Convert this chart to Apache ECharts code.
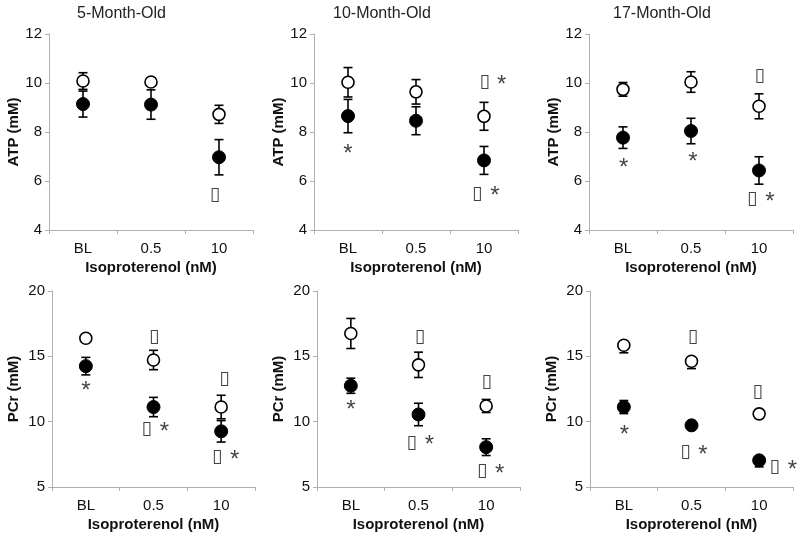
<!DOCTYPE html>
<html>
<head>
<meta charset="utf-8">
<script src="https://cdn.jsdelivr.net/npm/echarts@6/dist/echarts.min.js"></script>
<style>
html,body{margin:0;padding:0;background:#fff;}
#chart{width:800px;height:538px;}
</style>
</head>
<body>
<div id="chart"></div>
<script>
// ---------- DATA ----------
const categories = ['BL', '0.5', '10'];
const panelTitles = ['5-Month-Old', '10-Month-Old', '17-Month-Old'];
const xAxisName = 'Isoproterenol (nM)';
const atpName = 'ATP (mM)';
const pcrName = 'PCr (mM)';
const atpRange = [4, 12, 2];
const pcrRange = [5, 20, 5];
const boxChar = '\u25AF';
const starChar = '*';

// ATP, 5-month
const atp5Filled = [9.14, 9.12, 6.97];
const atp5FilledErr = [0.53, 0.6, 0.72];
const atp5Open = [10.08, 10.04, 8.72];
const atp5OpenErr = [0.34, 0.15, 0.37];
const atp5Boxes = [[1.94, 5.43]];
const atp5Stars = [];

// ATP, 10-month
const atp10Filled = [8.65, 8.46, 6.84];
const atp10FilledErr = [0.68, 0.57, 0.57];
const atp10Open = [10.03, 9.64, 8.64];
const atp10OpenErr = [0.6, 0.5, 0.57];
const atp10Boxes = [[2.01, 10.02], [1.9, 5.47]];
const atp10Stars = [[0, 7.3], [2.26, 10.1], [2.16, 5.57]];

// ATP, 17-month
const atp17Filled = [7.77, 8.04, 6.43];
const atp17FilledErr = [0.44, 0.52, 0.56];
const atp17Open = [9.74, 10.04, 9.05];
const atp17OpenErr = [0.28, 0.42, 0.51];
const atp17Boxes = [[2.01, 10.3], [1.9, 5.26]];
const atp17Stars = [[0.01, 6.73], [1.03, 6.96], [2.16, 5.32]];

// PCr, 5-month
const pcr5Filled = [14.25, 11.12, 9.26];
const pcr5FilledErr = [0.67, 0.74, 0.82];
const pcr5Open = [16.38, 14.72, 11.12];
const pcr5OpenErr = [0.2, 0.74, 0.9];
const pcr5Boxes = [[1.01, 16.51], [0.9, 9.43], [2.05, 13.28], [1.94, 7.29]];
const pcr5Stars = [[0, 12.69], [1.16, 9.56], [2.2, 7.42]];

// PCr, 10-month
const pcr10Filled = [12.75, 10.55, 8.05];
const pcr10FilledErr = [0.58, 0.86, 0.64];
const pcr10Open = [16.75, 14.35, 11.2];
const pcr10OpenErr = [1.15, 0.97, 0.5];
const pcr10Boxes = [[1.02, 16.51], [0.9, 8.36], [2.01, 13.02], [1.94, 6.2]];
const pcr10Stars = [[0, 11.24], [1.16, 8.54], [2.2, 6.38]];

// PCr, 17-month  (errors as [down, up] where asymmetric)
const pcr17Filled = [11.12, 9.72, 7.04];
const pcr17FilledErr = [0.5, 0.2, [0.5, 0.1]];
const pcr17Open = [15.85, 14.62, 10.6];
const pcr17OpenErr = [[0.58, 0.1], [0.56, 0.1], [0.25, 0.1]];
const pcr17Boxes = [[1.02, 16.51], [0.91, 7.65], [1.98, 12.26], [2.23, 6.53]];
const pcr17Stars = [[0.01, 9.33], [1.17, 7.78], [2.49, 6.66]];

// ---------- LAYOUT ----------
const panels = [
  {filled: atp5Filled, fErr: atp5FilledErr, open: atp5Open, oErr: atp5OpenErr, boxes: atp5Boxes, stars: atp5Stars, range: atpRange, yName: atpName, title: panelTitles[0]},
  {filled: atp10Filled, fErr: atp10FilledErr, open: atp10Open, oErr: atp10OpenErr, boxes: atp10Boxes, stars: atp10Stars, range: atpRange, yName: atpName, title: panelTitles[1]},
  {filled: atp17Filled, fErr: atp17FilledErr, open: atp17Open, oErr: atp17OpenErr, boxes: atp17Boxes, stars: atp17Stars, range: atpRange, yName: atpName, title: panelTitles[2]},
  {filled: pcr5Filled, fErr: pcr5FilledErr, open: pcr5Open, oErr: pcr5OpenErr, boxes: pcr5Boxes, stars: pcr5Stars, range: pcrRange, yName: pcrName},
  {filled: pcr10Filled, fErr: pcr10FilledErr, open: pcr10Open, oErr: pcr10OpenErr, boxes: pcr10Boxes, stars: pcr10Stars, range: pcrRange, yName: pcrName},
  {filled: pcr17Filled, fErr: pcr17FilledErr, open: pcr17Open, oErr: pcr17OpenErr, boxes: pcr17Boxes, stars: pcr17Stars, range: pcrRange, yName: pcrName}
];
const gridBoxes = [
  {left: 49, top: 34, width: 204, height: 196},
  {left: 314, top: 34, width: 204, height: 196},
  {left: 589, top: 34, width: 204, height: 196},
  {left: 52, top: 291, width: 203, height: 196},
  {left: 317, top: 291, width: 203, height: 196},
  {left: 590, top: 291, width: 203, height: 196}
];
const titleLefts = [72, 328, 608];
const FONT = '"Liberation Sans", Arial, sans-serif';
const AXIS_COLOR = '#b0b0b0';

function errData(vals, errs) {
  return vals.map((v, i) => {
    const e = errs[i];
    const dn = Array.isArray(e) ? e[0] : e;
    const up = Array.isArray(e) ? e[1] : e;
    return [i, v - dn, v + up];
  });
}

function renderErr(params, api) {
  const x = api.value(0);
  const p1 = api.coord([x, api.value(1)]);
  const p2 = api.coord([x, api.value(2)]);
  const w = 4.5;
  const st = {stroke: '#000', lineWidth: 1.6};
  return {
    type: 'group',
    children: [
      {type: 'line', shape: {x1: p1[0], y1: p1[1], x2: p2[0], y2: p2[1]}, style: st},
      {type: 'line', shape: {x1: p1[0] - w, y1: p1[1], x2: p1[0] + w, y2: p1[1]}, style: st},
      {type: 'line', shape: {x1: p2[0] - w, y1: p2[1], x2: p2[0] + w, y2: p2[1]}, style: st}
    ]
  };
}

const option = {
  backgroundColor: '#fff',
  animation: false,
  title: [],
  grid: [],
  xAxis: [],
  yAxis: [],
  series: []
};

panels.forEach((p, i) => {
  option.grid.push(Object.assign({containLabel: false}, gridBoxes[i]));
  if (p.title) {
    option.title.push({
      text: p.title, left: titleLefts[i], top: 1,
      textStyle: {fontFamily: FONT, fontSize: 16, fontWeight: 'normal', color: '#222'}
    });
  }
  option.xAxis.push({
    type: 'category', gridIndex: i, data: categories, boundaryGap: true,
    name: xAxisName, nameLocation: 'middle', nameGap: 30,
    nameTextStyle: {fontFamily: FONT, fontSize: 15, fontWeight: 'bold', color: '#111'},
    axisLine: {onZero: false, lineStyle: {color: AXIS_COLOR, width: 1}},
    axisTick: {show: true, length: 4, lineStyle: {color: AXIS_COLOR}},
    axisLabel: {fontFamily: FONT, fontSize: 15, color: '#111', margin: 11},
    splitLine: {show: false}
  });
  option.yAxis.push({
    type: 'value', gridIndex: i, min: p.range[0], max: p.range[1], interval: p.range[2],
    name: p.yName, nameLocation: 'middle', nameGap: i < 3 ? 28 : 31,
    nameTextStyle: {fontFamily: FONT, fontSize: 15, fontWeight: 'bold', color: '#111'},
    axisLine: {show: true, onZero: false, lineStyle: {color: AXIS_COLOR, width: 1}},
    axisTick: {show: true, length: 4, lineStyle: {color: AXIS_COLOR}},
    axisLabel: {fontFamily: FONT, fontSize: 15, color: '#111', margin: 7},
    splitLine: {show: false}
  });
});
// hidden value x-axes for annotation placement
panels.forEach((p, i) => {
  option.xAxis.push({type: 'value', gridIndex: i, min: -0.5, max: 2.5, show: false,
    axisLine: {onZero: false}});
});

panels.forEach((p, i) => {
  option.series.push({
    type: 'custom', xAxisIndex: i, yAxisIndex: i, renderItem: renderErr,
    data: errData(p.filled, p.fErr), encode: {x: 0, y: [1, 2]}, z: 1, silent: true
  });
  option.series.push({
    type: 'custom', xAxisIndex: i, yAxisIndex: i, renderItem: renderErr,
    data: errData(p.open, p.oErr), encode: {x: 0, y: [1, 2]}, z: 1, silent: true
  });
  option.series.push({
    type: 'scatter', xAxisIndex: i, yAxisIndex: i, symbol: 'circle', symbolSize: 13,
    data: p.filled.map((v, k) => [k, v]), z: 3,
    itemStyle: {color: '#000', borderColor: '#000', borderWidth: 1, opacity: 1}
  });
  option.series.push({
    type: 'scatter', xAxisIndex: i, yAxisIndex: i, symbol: 'circle', symbolSize: 12,
    data: p.open.map((v, k) => [k, v]), z: 3,
    itemStyle: {color: '#fff', borderColor: '#000', borderWidth: 1.6, opacity: 1}
  });
  option.series.push({
    type: 'scatter', xAxisIndex: 6 + i, yAxisIndex: i, symbolSize: 1, z: 4, silent: true,
    data: p.boxes, itemStyle: {color: 'transparent'},
    label: {show: true, position: 'inside', formatter: boxChar,
      fontFamily: '"DejaVu Sans", sans-serif', fontSize: 19, color: '#111'}
  });
  option.series.push({
    type: 'scatter', xAxisIndex: 6 + i, yAxisIndex: i, symbolSize: 1, z: 4, silent: true,
    data: p.stars, itemStyle: {color: 'transparent'},
    label: {show: true, position: 'inside', formatter: starChar, offset: [0, 5],
      fontFamily: FONT, fontSize: 24, color: '#111'}
  });
});

const chart = echarts.init(document.getElementById('chart'), null, {renderer: 'canvas'});
chart.setOption(option);
</script>
</body>
</html>
